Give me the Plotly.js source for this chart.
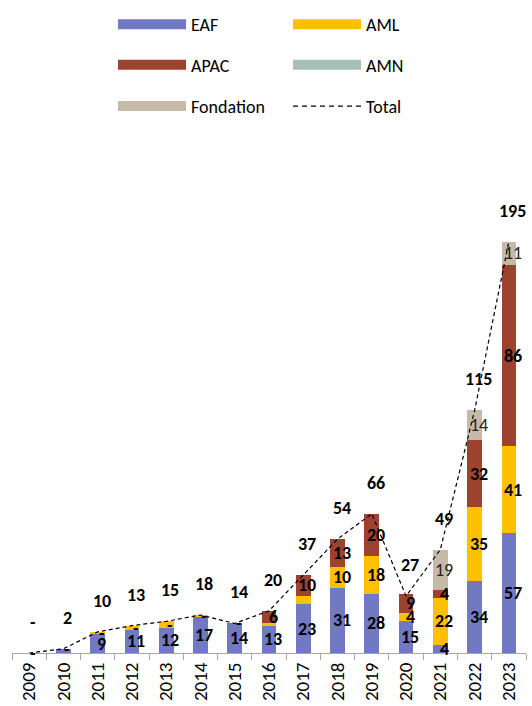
<!DOCTYPE html>
<html><head><meta charset="utf-8">
<script src="https://cdn.plot.ly/plotly-3.0.1.min.js"></script>
<style>html,body{margin:0;padding:0;background:#fff}#chart{width:532px;height:706px}</style>
</head><body><div id="chart"></div>
<script>
const years = ['2009','2010','2011','2012','2013','2014','2015','2016','2017','2018','2019','2020','2021','2022','2023'];
const eaf       = [0,2,9,11,12,17,14,13,23,31,28,15,4,34,57];
const aml       = [0,0,1,2,3,1,0,1,4,10,18,4,22,35,41];
const apac      = [0,0,0,0,0,0,0,6,10,13,20,9,4,32,86];
const amn       = [0,0,0,0,0,0,0,0,0,0,0,0,0,0,0];
const fondation = [0,0,0,0,0,0,0,0,0,0,0,0,19,14,11];
const total     = [0,2,10,13,15,18,14,20,37,54,66,27,49,115,195];
const eafLabels       = ['-','','9','11','12','17','14','13','23','31','28','15','4','34','57'];
const amlLabels       = ['','-','-','-','-','-','-','','','10','18','4','22','35','41'];
const apacLabels      = ['','','','','','','','6','10','13','20','9','4','32','86'];
const fondationLabels = ['','','','','','','','','','','','','19','14','11'];
const totalLabels     = ['-','2','10','13','15','18','14','20','37','54','66','27','49','115','195'];

const FONT = 'Carlito, Lato, sans-serif';
const colors = {EAF:'#7079C2', AML:'#FFC000', APAC:'#9C422E', AMN:'#A8BFB6', Fondation:'#C7B9A7'};

const series = [
  {name:'EAF', y:eaf, labels:eafLabels, bold:true},
  {name:'AML', y:aml, labels:amlLabels, bold:true},
  {name:'APAC', y:apac, labels:apacLabels, bold:true},
  {name:'AMN', y:amn, labels:null, bold:true},
  {name:'Fondation', y:fondation, labels:fondationLabels, bold:false}
];

const traces = [];
const annotations = [];
const base = years.map(() => 0);
series.forEach(s => {
  traces.push({type:'bar', x:years, y:s.y, name:s.name, marker:{color:colors[s.name]},
    showlegend:false, hoverinfo:'skip'});
  if (s.labels) {
    years.forEach((yr, i) => {
      if (s.labels[i] !== '') {
        annotations.push({x:i, y:base[i] + s.y[i]/2, xref:'x', yref:'y', text: s.bold ? '<b>'+s.labels[i]+'</b>' : s.labels[i],
          showarrow:false, xshift:4, font:{family:FONT, size:18, color: s.bold ? '#000' : '#222'}});
      }
    });
  }
  years.forEach((yr, i) => { base[i] += s.y[i]; });
});

traces.push({type:'scatter', mode:'lines', x:years, y:total, name:'Total', showlegend:false,
  line:{color:'#000', width:1.2, dash:'4px,3px'}, hoverinfo:'skip'});
years.forEach((yr, i) => {
  annotations.push({x:i, y:total[i], xref:'x', yref:'y', text:'<b>'+totalLabels[i]+'</b>', showarrow:false,
    yshift:31, xshift:4, font:{family:FONT, size:18, color:'#000'}});
});

// legend entries (dummy traces without visible points)
const legendMap = {EAF:'legend', AML:'legend', APAC:'legend2', AMN:'legend2', Fondation:'legend3'};
['EAF','AML','APAC','AMN','Fondation'].forEach(n => {
  traces.push({type:'scatter', mode:'lines', x:[years[0]], y:[null], name:n, legend:legendMap[n],
    line:{color:colors[n], width:12}, showlegend:true, hoverinfo:'skip'});
});
traces.push({type:'scatter', mode:'lines', x:[years[0]], y:[null], name:'Total', legend:'legend3',
  line:{color:'#000', width:1.2, dash:'5px,4px'}, showlegend:true, hoverinfo:'skip'});

const legBase = {orientation:'h', traceorder:'normal', xanchor:'left', yanchor:'middle', itemwidth:68, entrywidth:92,
  font:{family:FONT, size:18, color:'#000'}, bgcolor:'rgba(0,0,0,0)', borderwidth:0, itemclick:false, itemdoubleclick:false};
const lx = (113-12)/514;

const layout = {
  width:532, height:706,
  margin:{l:12, r:6, t:130, b:53},
  paper_bgcolor:'#fff', plot_bgcolor:'#fff',
  barmode:'stack', bargap:0.57,
  font:{family:FONT, size:18, color:'#000'},
  xaxis:{type:'category', range:[-0.5,14.5], showline:true, linecolor:'#A6A6A6', linewidth:1, ticks:'outside', tickson:'boundaries',
    ticklen:6, tickcolor:'#A6A6A6', tickangle:-90, ticklabelstandoff:1, tickfont:{family:FONT, size:19, color:'#000'},
    automargin:false, showgrid:false, zeroline:false, fixedrange:true},
  yaxis:{range:[0,244.6], visible:false, showgrid:false, zeroline:false, fixedrange:true},
  showlegend:true,
  legend: Object.assign({}, legBase, {x:lx, y:(653-16)/523}),
  legend2: Object.assign({}, legBase, {x:lx, y:(653-57)/523}),
  legend3: Object.assign({}, legBase, {x:lx, y:(653-99)/523}),
  annotations: annotations
};

Plotly.newPlot('chart', traces, layout, {displayModeBar:false, staticPlot:true});
</script></body></html>
